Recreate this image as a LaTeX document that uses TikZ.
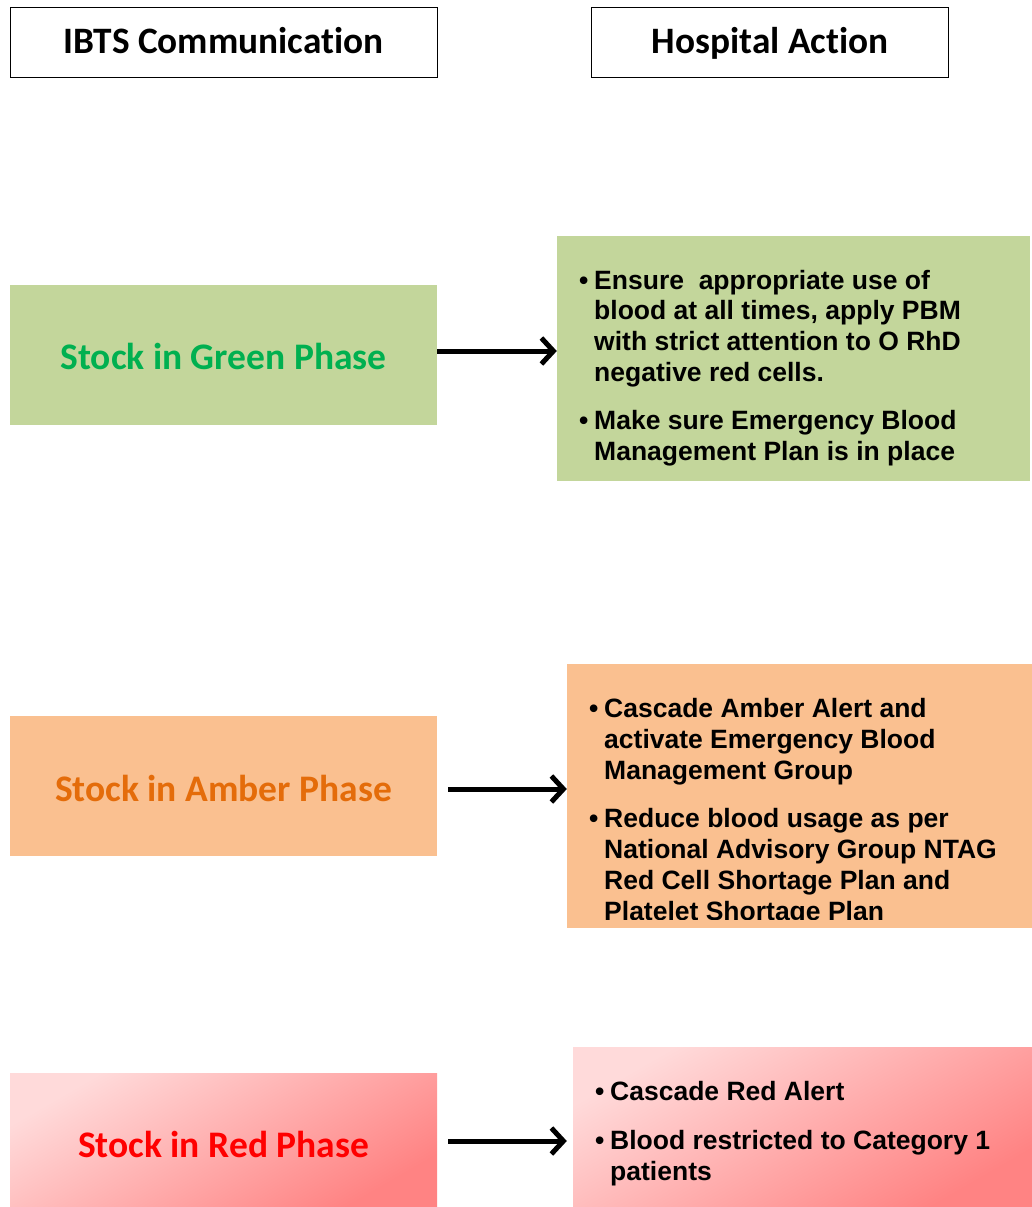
\documentclass[tikz,border=0pt]{standalone}
\usepackage{fontspec}
\setmainfont{Liberation Sans}
\newfontfamily\carlito[Ligatures=NoCommon]{Carlito}
\usetikzlibrary{arrows.meta}
\definecolor{gfill}{HTML}{C3D69B}
\definecolor{gtext}{HTML}{00B050}
\definecolor{afill}{HTML}{FAC090}
\definecolor{atext}{HTML}{E46C0A}
\definecolor{rlight}{HTML}{FFDADA}
\definecolor{rdark}{HTML}{FF8383}
\definecolor{rtext}{HTML}{FF0000}
\begin{document}
\begin{tikzpicture}[x=1pt,y=-1pt,
  hdr/.style={draw=black,line width=0.8pt,fill=white,inner sep=0pt},
  hdrtxt/.style={anchor=base,inner sep=0pt,font=\carlito\bfseries\fontsize{37.3}{40}\selectfont},
  phase/.style={anchor=base,inner sep=0pt,font=\carlito\bfseries\fontsize{37.5}{40}\selectfont},
  gbox/.style={fill=gfill,draw=none,inner sep=0pt},
  abox/.style={fill=afill,draw=none,inner sep=0pt},
  rbox/.style={draw=none,inner sep=0pt,top color=rlight,bottom color=rdark,shading angle=30},
  ln/.style={anchor=base west,inner sep=0pt,font=\bfseries\fontsize{26.5}{31}\selectfont},
  bul/.style={anchor=base west,inner sep=0pt,font=\bfseries\fontsize{26.5}{31}\selectfont},
  arr/.style={line width=5pt,-{Straight Barb[length=12pt,width=26pt,line width=5pt]}}]
\useasboundingbox (0,0) rectangle (1032,1207);
\fill[white] (0,0) rectangle (1032,1207);

% headers
\node[hdr,minimum width=427pt,minimum height=70pt] (H1) at (223.5,42) {};
\node[hdrtxt] (H1t) at (223.5,54) {IBTS Communication};
\node[hdr,minimum width=357pt,minimum height=70pt] (H2) at (769.5,42) {};
\node[hdrtxt] (H2t) at (770,54) {Hospital Action};

% green
\node[gbox,minimum width=427pt,minimum height=140pt] (GL) at (223.5,355) {};
\node[phase,text=gtext] (GLt) at (223.5,369) {Stock in Green Phase};
\node[gbox,minimum width=473pt,minimum height=245pt] (GR) at (793.5,358.5) {};
\node[bul] (gb1) at (579,289) {•};
\node[ln] (g1) at (594,289) {Ensure~ appropriate use of};
\node[ln] (g2) at (594,319.7) {blood at all times, apply PBM};
\node[ln] (g3) at (594,350.4) {with strict attention to O RhD};
\node[ln] (g4) at (594,381.1) {negative red cells.};
\node[bul] (gb2) at (579,429.5) {•};
\node[ln] (g5) at (594,429.5) {Make sure Emergency Blood};
\node[ln] (g6) at (594,460.2) {Management Plan is in place};
\draw[arr] ([yshift=4pt]GL.east) -- ([yshift=7.5pt]GR.west);

% amber
\node[abox,minimum width=427pt,minimum height=140pt] (AL) at (223.5,786) {};
\node[phase,text=atext] (ALt) at (223.5,801) {Stock in Amber Phase};
\node[abox,minimum width=465pt,minimum height=264pt] (AR) at (799.5,796) {};
\begin{scope}
\clip (567,664) rectangle (1032,919);
\node[bul] (ab1) at (589,717) {•};
\node[ln] (a1) at (604,717) {Cascade Amber Alert and};
\node[ln] (a2) at (604,748) {activate Emergency Blood};
\node[ln] (a3) at (604,779) {Management Group};
\node[bul] (ab2) at (589,827) {•};
\node[ln] (a4) at (604,827) {Reduce blood usage as per};
\node[ln] (a5) at (604,858) {National Advisory Group NTAG};
\node[ln] (a6) at (604,889) {Red Cell Shortage Plan and};
\node[ln] (a7) at (604,920) {Platelet Shortage Plan};
\end{scope}
\draw[arr] ([xshift=11pt,yshift=-3pt]AL.east) -- ([yshift=7pt]AR.west);

% red
\node[rbox,minimum width=427pt,minimum height=133pt] (RL) at (223.5,1139.5) {};
\node[phase,text=rtext] (RLt) at (223.5,1157) {Stock in Red Phase};
\node[rbox,minimum width=459pt,minimum height=159pt] (RR) at (802.5,1126.5) {};
\node[bul] (rb1) at (595,1100) {•};
\node[ln] (r1) at (610,1100) {Cascade Red Alert};
\node[bul] (rb2) at (595,1149) {•};
\node[ln] (r2) at (610,1149) {Blood restricted to Category 1};
\node[ln] (r3) at (610,1180) {patients};
\draw[arr] ([xshift=11pt,yshift=-1.5pt]RL.east) -- ([xshift=-6pt,yshift=-14.5pt]RR.west);
\end{tikzpicture}
\end{document}
